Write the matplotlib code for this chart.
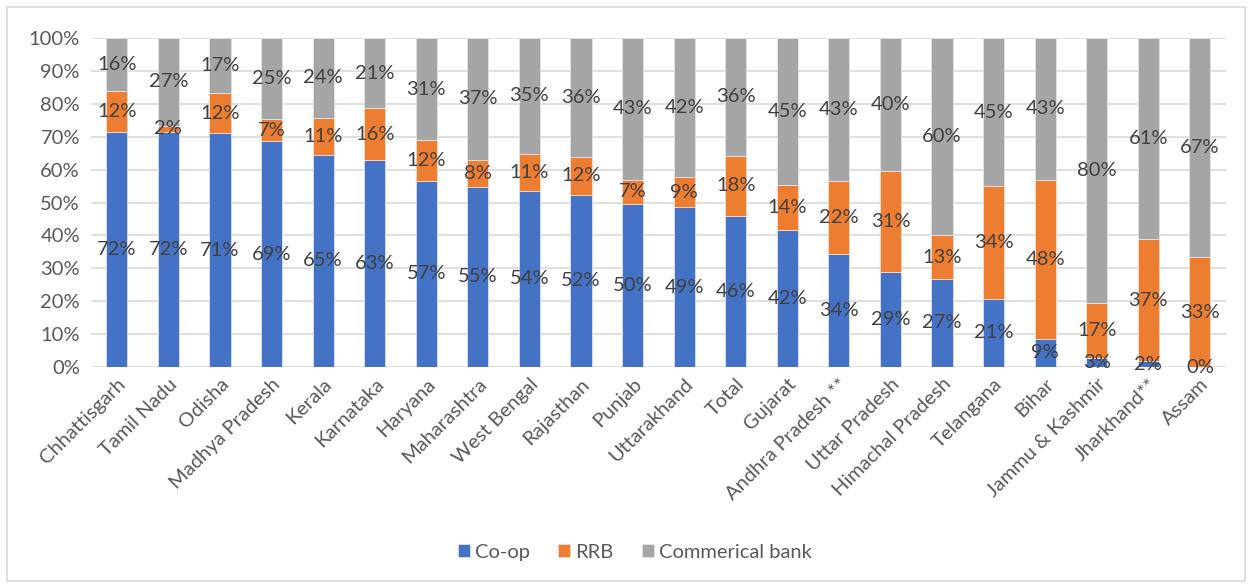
import matplotlib
matplotlib.use("Agg")
import matplotlib.pyplot as plt
from matplotlib.patches import Rectangle
from matplotlib.ticker import PercentFormatter

# Data (share in %)
states = ["Chhattisgarh", "Tamil Nadu", "Odisha", "Madhya Pradesh", "Kerala",
          "Karnataka", "Haryana", "Maharashtra", "West Bengal", "Rajasthan",
          "Punjab", "Uttarakhand", "Total", "Gujarat", "Andhra Pradesh **",
          "Uttar Pradesh", "Himachal Pradesh", "Telangana", "Bihar",
          "Jammu & Kashmir", "Jharkhand**", "Assam"]
coop = [71.5, 71.6, 71.0, 68.6, 64.6, 62.8, 56.6, 54.8, 53.6, 52.4, 49.6,
        48.6, 45.9, 41.6, 34.4, 28.8, 26.8, 20.8, 8.6, 2.8, 1.8, 0.0]
rrb = [12.4, 1.8, 12.4, 6.8, 11.2, 15.8, 12.3, 8.2, 11.2, 11.6, 7.3,
       9.1, 18.4, 13.7, 22.3, 30.8, 13.2, 34.2, 48.4, 16.8, 37.0, 33.3]
commercial = [16.1, 26.6, 16.6, 24.6, 24.2, 21.4, 31.1, 37.0, 35.2, 36.0, 43.1,
              42.3, 35.7, 44.7, 43.3, 40.4, 60.0, 45.0, 43.0, 80.4, 61.2, 66.7]

plt.rcParams['font.family'] = ['Lato', 'DejaVu Sans']

fig = plt.figure(figsize=(12.52, 5.86), dpi=100)
ax = fig.add_axes([0.0727, 0.3737, 0.9063, 0.5613])

x = list(range(len(states)))
bottom2 = [a + b for a, b in zip(coop, rrb)]
w = 0.41
b1 = ax.bar(x, coop, w, color="#4472C4", edgecolor="#d9e2f3", linewidth=0.6, label="Co-op", zorder=2)
b2 = ax.bar(x, rrb, w, bottom=coop, color="#ED7D31", edgecolor="#f8dccb", linewidth=0.6, label="RRB", zorder=2)
b3 = ax.bar(x, commercial, w, bottom=bottom2, color="#A5A5A5", edgecolor="#e4e4e4", linewidth=0.6,
            label="Commerical bank", zorder=2)

for bars in (b1, b2, b3):
    ax.bar_label(bars, labels=[f"{round(b.get_height() + 1e-6):d}%" for b in bars],
                 label_type="center", fontsize=14.5, color="#404040", zorder=3)

ax.set_xlim(-0.5, len(states) - 0.5)
ax.set_ylim(0, 100)
ax.set_yticks(range(0, 101, 10))
ax.yaxis.set_major_formatter(PercentFormatter(decimals=0))
ax.grid(axis="y", color="#d9d9d9", linewidth=1.2, zorder=0)
ax.set_axisbelow(True)
for s in ax.spines.values():
    s.set_visible(False)
ax.tick_params(axis="both", length=0, labelsize=14.5, labelcolor="#595959")
ax.tick_params(axis="y", pad=8)
ax.tick_params(axis="x", pad=6)
ax.set_xticks(x)
ax.set_xticklabels(states, rotation=45, ha="right", rotation_mode="anchor")

ax.legend(loc="center", bbox_to_anchor=(0.507, 0.058), bbox_transform=fig.transFigure, ncol=3,
          frameon=False, fontsize=14.5, handlelength=0.6, handleheight=0.6,
          handletextpad=0.25, columnspacing=1.4, labelcolor="#595959")

fig.patches.append(Rectangle((7 / 1252, 5 / 586), 1238 / 1252, 574 / 586,
                             transform=fig.transFigure, fill=False,
                             edgecolor="#d9d9d9", linewidth=1.2))

fig.savefig("out.png", dpi=100)
